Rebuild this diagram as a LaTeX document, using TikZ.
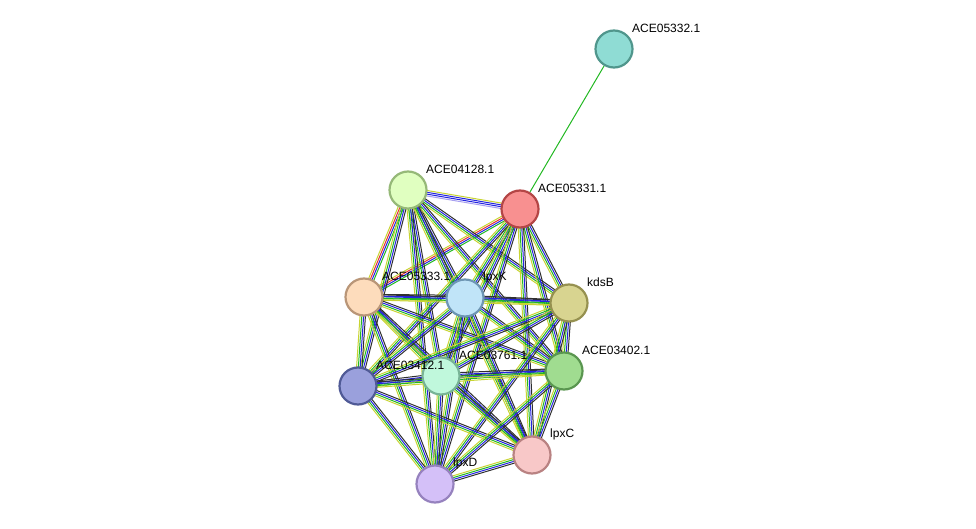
\documentclass[tikz,border=0pt]{standalone}
\usepackage{fontspec}
\setmainfont{Liberation Sans}
\usetikzlibrary{calc,backgrounds}
\definecolor{ey}{HTML}{C8D432}
\definecolor{eg}{HTML}{22B822}
\definecolor{eb}{HTML}{2424E0}
\definecolor{ek}{HTML}{303030}
\definecolor{er}{HTML}{E83030}
\definecolor{ep}{HTML}{A8A0F0}
\definecolor{f32}{RGB}{143,220,212}\definecolor{d32}{RGB}{80,150,140}
\definecolor{f31}{RGB}{248,144,144}\definecolor{d31}{RGB}{180,70,70}
\definecolor{f28}{RGB}{224,255,192}\definecolor{d28}{RGB}{150,185,120}
\definecolor{f33}{RGB}{253,220,188}\definecolor{d33}{RGB}{185,150,120}
\definecolor{fk}{RGB}{192,228,248}\definecolor{dk}{RGB}{110,150,180}
\definecolor{fs}{RGB}{216,212,144}\definecolor{ds}{RGB}{150,145,80}
\definecolor{f12}{RGB}{154,160,220}\definecolor{d12}{RGB}{80,90,150}
\definecolor{f61}{RGB}{192,248,220}\definecolor{d61}{RGB}{120,180,150}
\definecolor{f02}{RGB}{160,220,144}\definecolor{d02}{RGB}{90,150,80}
\definecolor{fc}{RGB}{248,200,200}\definecolor{dc}{RGB}{185,130,130}
\definecolor{fd}{RGB}{212,192,248}\definecolor{dd}{RGB}{150,130,190}
\tikzset{
 prot/.style={circle,minimum size=37pt,inner sep=0pt,line width=2.2pt,fill=f#1,draw=d#1},
 lbl/.style={anchor=west,font=\fontsize{12pt}{13pt}\selectfont,inner sep=0pt},
 ed/.style={line width=1pt}
}
\newcommand\E[3]{\foreach \c [count=\i] in {#3}{\pgfmathsetmacro\o{(\i-2.5)*1.8}\draw[ed,\c] ($(#1)!\o pt!90:(#2)$) -- ($(#2)!\o pt!-90:(#1)$);}}
\begin{document}
\begin{tikzpicture}[x=1pt,y=-1pt]
\useasboundingbox (0,0) rectangle (976,529);
\foreach \n/\x/\y in {32/614/49,31/520/209,28/408/190,33/364/297,k/465/298,s/569/303,12/358/386,61/441/376,02/564/371,c/532/455,d/435/484}
  \node[prot=\n] (a\n) at (\x,\y) {};
\foreach \n/\t in {32/ACE05332.1,31/ACE05331.1,28/ACE04128.1,33/ACE05333.1,k/lpxK,s/kdsB,12/ACE03412.1,61/ACE03761.1,02/ACE03402.1,c/lpxC,d/lpxD}
  \node[lbl] (l\n) at ($(a\n)+(18,-21)$) {\t};
\begin{pgfonlayer}{background}
\draw[ed,eg] (a31) -- (a32);
\E{a28}{a31}{ep,eb,eb,ey}
\E{a28}{a33}{ey,er,eb,eg}
\E{a31}{a33}{ey,er,eb,eg}
\foreach \p/\q in {28/k,28/s,28/12,28/61,28/02,28/c,28/d,
 31/k,31/s,31/12,31/61,31/02,31/c,31/d,
 33/k,33/s,33/12,33/61,33/02,33/c,33/d,
 k/s,k/12,k/61,k/02,k/c,k/d,
 s/12,s/61,s/02,s/c,s/d,
 12/61,12/02,12/c,12/d,
 61/02,61/c,61/d,
 02/c,02/d,c/d}
 {\E{a\p}{a\q}{ey,eg,eb,ek}}
\end{pgfonlayer}
\end{tikzpicture}
\end{document}
